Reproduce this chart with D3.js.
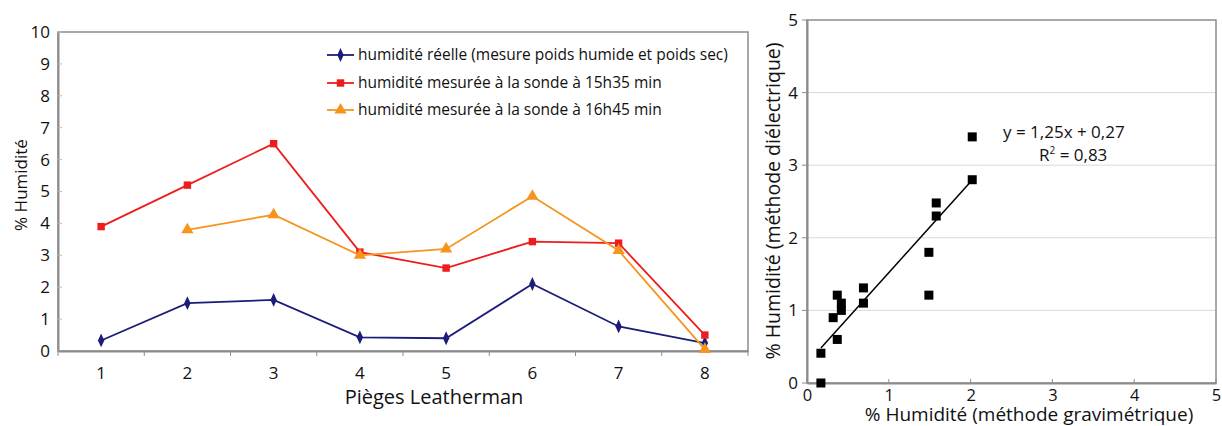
<!DOCTYPE html>
<html><head><meta charset="utf-8">
<script src="https://cdn.jsdelivr.net/npm/d3@7"></script>
<style>
body{margin:0;background:#fff;}
text{font-family:"Open Sans","Noto Sans",sans-serif;fill:#111;}
</style></head>
<body><svg id="c" width="1222" height="426"></svg>
<script>
// ---- Left chart data ----
const traps = ["1","2","3","4","5","6","7","8"];
const reelle = [0.33,1.5,1.6,0.43,0.4,2.1,0.77,0.25];
const sonde1535 = [3.9,5.2,6.5,3.1,2.6,3.43,3.38,0.5];
const sonde1645 = [null,3.8,4.27,3.0,3.2,4.85,3.15,0.05];
const seriesNames = ["humidité réelle (mesure poids humide et poids sec)","humidité mesurée à la sonde à 15h35 min","humidité mesurée à la sonde à 16h45 min"];
const yTicksLeft = [0,1,2,3,4,5,6,7,8,9,10];
// ---- Right chart data ----
const gravi = [0.17,0.17,0.32,0.37,0.37,0.42,0.42,0.69,0.69,1.49,1.49,1.58,1.58,2.02,2.02];
const dielec = [0.41,0.0,0.90,1.21,0.60,1.10,1.0,1.31,1.10,1.80,1.21,2.30,2.48,3.39,2.80];
const slope = 1.25, intercept = 0.27;
const axTicksRight = [0,1,2,3,4,5];

const svg = d3.select("#c");
const axisCol = "#8c8c8c";

// ===== Left chart =====
const L = {l:58, r:748, t:32, b:351};
const x = d3.scaleBand().domain(traps).range([L.l, L.r]);
const y = d3.scaleLinear().domain([0,10]).range([L.b, L.t]);
const g1 = svg.append("g");
g1.append("rect").attr("x",L.l).attr("y",L.t).attr("width",L.r-L.l).attr("height",L.b-L.t)
  .attr("fill","none").attr("stroke",axisCol).attr("stroke-width",1.5);
const yAx = g1.append("g").attr("transform",`translate(${L.l},0)`)
  .call(d3.axisLeft(y).tickValues(yTicksLeft).tickFormat(d3.format("d")).tickSize(0).tickPadding(8));
yAx.select(".domain").attr("stroke",axisCol).attr("stroke-width",2);
yAx.selectAll("text").style("font-size","17px").attr("fill","#111");
g1.selectAll(".yt").data(yTicksLeft).enter().append("line")
  .attr("x1",L.l).attr("x2",L.l+4).attr("y1",d=>y(d)).attr("y2",d=>y(d))
  .attr("stroke","#bbb").attr("stroke-width",1);
const xAx = g1.append("g").attr("transform",`translate(0,${L.b})`)
  .call(d3.axisBottom(x).tickSize(0).tickPadding(16));
xAx.select(".domain").attr("stroke",axisCol).attr("stroke-width",2);
xAx.selectAll("text").style("font-size","17px").attr("fill","#111");
g1.selectAll(".sep").data(traps.concat(["end"])).enter().append("line")
  .attr("x1",(d,i)=>L.l+i*x.bandwidth()).attr("x2",(d,i)=>L.l+i*x.bandwidth())
  .attr("y1",L.b).attr("y2",L.b+5).attr("stroke",axisCol).attr("stroke-width",1);

g1.append("text").attr("x",434).attr("y",404).attr("text-anchor","middle")
  .style("font-size","20px").text("Pièges Leatherman");
g1.append("text").attr("transform","translate(27,185) rotate(-90)").attr("text-anchor","middle")
  .style("font-size","17px").text("% Humidité");

const cx = d => x(d) + x.bandwidth()/2;
const seriesData = [reelle, sonde1535, sonde1645];
const colors = ["#1c1c7a","#ee1c1c","#f7941d"];
const symbols = [d3.symbolDiamond, d3.symbolSquare, d3.symbolTriangle];
const symSizes = [55, 55, 65];
const line = d3.line().defined(d=>d.v!=null).x(d=>cx(d.k)).y(d=>y(d.v));
seriesData.forEach((s,si)=>{
  const pts = traps.map((k,i)=>({k, v:s[i]}));
  g1.append("path").datum(pts).attr("d",line).attr("fill","none")
    .attr("stroke",colors[si]).attr("stroke-width",1.8);
  g1.selectAll(null).data(pts.filter(p=>p.v!=null)).enter().append("path")
    .attr("d",d3.symbol().type(symbols[si]).size(symSizes[si]))
    .attr("transform",d=>`translate(${cx(d.k)},${y(d.v)})${si===0?" scale(0.8,1)":""}`)
    .attr("fill",colors[si]);
});
const legY = [55,83,110];
seriesNames.forEach((n,i)=>{
  const lg = g1.append("g").attr("transform",`translate(327,${legY[i]})`);
  lg.append("line").attr("x1",0).attr("x2",27).attr("stroke",colors[i]).attr("stroke-width",1.8);
  lg.append("path").attr("d",d3.symbol().type(symbols[i]).size(symSizes[i]))
    .attr("transform",`translate(13.5,0)${i===0?" scale(0.8,1)":""}`).attr("fill",colors[i]);
  lg.append("text").attr("x",31).attr("y",5).style("font-size","15.5px").text(n);
});

// ===== Right chart =====
const R = {l:807, r:1216, t:20, b:383};
const xs = d3.scaleLinear().domain([0,5]).range([R.l, R.r]);
const ys = d3.scaleLinear().domain([0,5]).range([R.b, R.t]);
const g2 = svg.append("g");
g2.selectAll(".grid").data(axTicksRight.filter(t=>t>0 && t<5)).enter().append("line")
  .attr("x1",R.l).attr("x2",R.r).attr("y1",d=>ys(d)).attr("y2",d=>ys(d))
  .attr("stroke","#d9d9d9").attr("stroke-width",1);
g2.append("rect").attr("x",R.l).attr("y",R.t).attr("width",R.r-R.l).attr("height",R.b-R.t)
  .attr("fill","none").attr("stroke",axisCol).attr("stroke-width",1.5);
const ya2 = g2.append("g").attr("transform",`translate(${R.l},0)`)
  .call(d3.axisLeft(ys).tickValues(axTicksRight).tickFormat(d3.format("d")).tickSize(0).tickPadding(9));
ya2.select(".domain").attr("stroke",axisCol).attr("stroke-width",2);
ya2.selectAll("text").style("font-size","17px").attr("fill","#111");
const xa2 = g2.append("g").attr("transform",`translate(0,${R.b})`)
  .call(d3.axisBottom(xs).tickValues(axTicksRight).tickFormat(d3.format("d")).tickSize(0).tickPadding(6));
xa2.select(".domain").attr("stroke",axisCol).attr("stroke-width",2);
xa2.selectAll("text").style("font-size","16.5px").attr("fill","#111");
g2.selectAll(".xt").data(axTicksRight).enter().append("line")
  .attr("x1",d=>xs(d)).attr("x2",d=>xs(d)).attr("y1",R.b).attr("y2",R.b-4)
  .attr("stroke",axisCol).attr("stroke-width",1);
g2.selectAll(".yt2").data(axTicksRight).enter().append("line")
  .attr("x1",R.l).attr("x2",R.l-5).attr("y1",d=>ys(d)).attr("y2",d=>ys(d))
  .attr("stroke",axisCol).attr("stroke-width",1);

const xmin = d3.min(gravi), xmax = d3.max(gravi);
g2.append("line").attr("x1",xs(xmin)).attr("y1",ys(slope*xmin+intercept))
  .attr("x2",xs(xmax)).attr("y2",ys(slope*xmax+intercept))
  .attr("stroke","#000").attr("stroke-width",1.5);
g2.selectAll(null).data(gravi.map((g,i)=>[g,dielec[i]])).enter().append("rect")
  .attr("x",d=>xs(d[0])-4.5).attr("y",d=>ys(d[1])-4.5).attr("width",9).attr("height",9)
  .attr("fill","#000");

g2.append("text").attr("x",1003).attr("y",138).style("font-size","17px").text("y = 1,25x + 0,27");
const r2 = g2.append("text").attr("x",1039).attr("y",161).style("font-size","17px");
r2.append("tspan").text("R");
r2.append("tspan").attr("dy",-7).style("font-size","10px").text("2");
r2.append("tspan").attr("dy",7).text(" = 0,83");

g2.append("text").attr("x",1029).attr("y",421).attr("text-anchor","middle")
  .style("font-size","19px").text("% Humidité (méthode gravimétrique)");
g2.append("text").attr("transform","translate(780,201) rotate(-90)").attr("text-anchor","middle")
  .style("font-size","19.5px").text("% Humidité (méthode diélectrique)");
</script></body></html>
